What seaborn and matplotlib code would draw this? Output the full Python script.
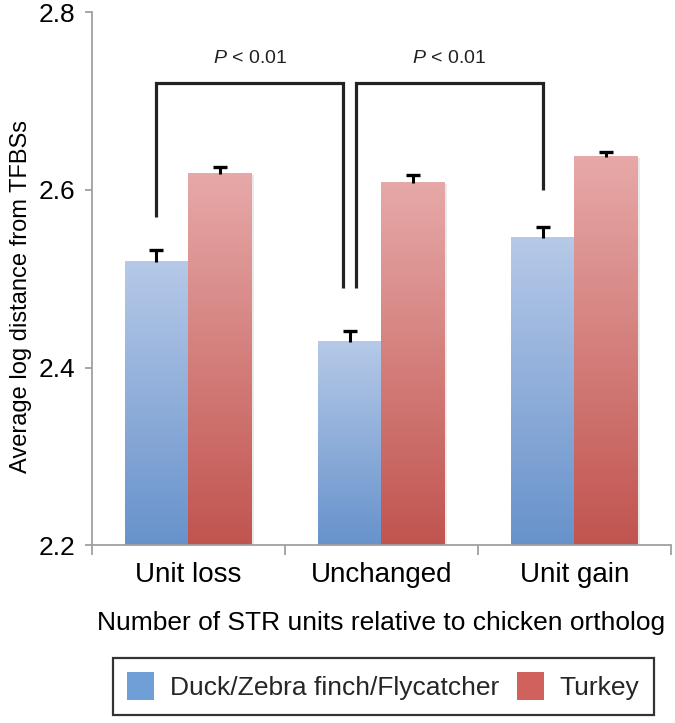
import numpy as np
import pandas as pd
import matplotlib
matplotlib.use("Agg")
import matplotlib.pyplot as plt
import seaborn as sns
from matplotlib.colors import to_rgb
from matplotlib.patches import Patch

# ---- data ----
categories = ["Unit loss", "Unchanged", "Unit gain"]
groups = ["Duck/Zebra finch/Flycatcher", "Turkey"]
duck_means = [2.519, 2.429, 2.546]
turkey_means = [2.618, 2.608, 2.637]
duck_err = [0.013, 0.012, 0.012]
turkey_err = [0.008, 0.009, 0.006]
y_ticks = [2.2, 2.4, 2.6, 2.8]
p_label = "$P$ < 0.01"

# ---- styling ----
grad_colors = {  # (top, bottom) of each bar gradient
    groups[0]: ("#b6c9e8", "#6792cb"),
    groups[1]: ("#e6a9a8", "#c1544f"),
}
legend_colors = {groups[0]: "#6f9fd6", groups[1]: "#d0615c"}
axis_grey = "#a0a0a0"

sns.set_theme(style="white")
plt.rcParams["font.family"] = ["Liberation Sans", "DejaVu Sans"]
plt.rcParams["mathtext.fontset"] = "custom"
plt.rcParams["mathtext.it"] = "Liberation Sans:italic"
plt.rcParams["mathtext.rm"] = "Liberation Sans"

df = pd.DataFrame({
    "category": categories * 2,
    "group": [groups[0]] * 3 + [groups[1]] * 3,
    "value": duck_means + turkey_means,
})

fig = plt.figure(figsize=(6.75, 7.23), dpi=100)
ax = fig.add_axes([0.136, 0.246, 0.858, 0.737])

sns.barplot(data=df, x="category", y="value", hue="group", order=categories,
            hue_order=groups, palette=legend_colors, width=0.66,
            errorbar=None, legend=False, ax=ax)

ymin, ymax = y_ticks[0], y_ticks[-1]

# replace flat fills with vertical gradients (light top, dark bottom)
centers = {}
for grp, cont in zip(groups, ax.containers):
    top, bot = (np.array(to_rgb(c)) for c in grad_colors[grp])
    t = np.linspace(0, 1, 256)[:, None]
    grad = (top * (1 - t) + bot * t)[:, None, :]
    xs = []
    for bar in cont:
        x0, w, h = bar.get_x(), bar.get_width(), bar.get_y() + bar.get_height()
        # faint shadow at the right edge
        ax.imshow(np.full((2, 2, 3), 0.92), extent=[x0 + 0.008, x0 + w + 0.008, ymin, h - 0.002],
                  aspect="auto", zorder=1.5)
        ax.imshow(grad, extent=[x0, x0 + w, ymin, h], aspect="auto", zorder=2,
                  interpolation="bilinear")
        bar.set_facecolor("none")
        bar.set_edgecolor("none")
        xs.append(x0 + w / 2)
    centers[grp] = xs

# upward-only error bars
for grp, means, errs in [(groups[0], duck_means, duck_err), (groups[1], turkey_means, turkey_err)]:
    _, caps, _ = ax.errorbar(centers[grp], means, yerr=[np.zeros(len(errs)), errs], fmt="none",
                             ecolor="black", elinewidth=2.2, capsize=5.2, capthick=2.4, zorder=3)
    caps[0].set_visible(False)  # drop the cap sitting on the bar top

# significance brackets
bracket_top = 2.72
leg_gap = [0.037, 0.049, 0.042]
d = duck_means
e = duck_err
xa, xb = centers[groups[0]][0], centers[groups[0]][1] - 0.034
xc, xd = centers[groups[0]][1] + 0.034, centers[groups[0]][2]
ya = d[0] + e[0] + leg_gap[0]
yb = d[1] + e[1] + leg_gap[1]
yd = d[2] + e[2] + leg_gap[2]
for (x1, y1, x2, y2) in [(xa, ya, xb, yb), (xc, yb, xd, yd)]:
    ax.plot([x1, x1, x2, x2], [y1, bracket_top, bracket_top, y2], color="#222222",
            lw=2.3, solid_joinstyle="miter", solid_capstyle="butt", zorder=4)
    ax.text((x1 + x2) / 2, bracket_top + 0.028, p_label, ha="center", va="center",
            fontsize=14, color="#222222")

# axes
ax.set_xlim(-0.5, len(categories) - 0.5)
ax.set_ylim(ymin, ymax)
ax.set_yticks(y_ticks)
ax.set_yticklabels([f"{v:.1f}" for v in y_ticks])
ax.set_xticks(range(len(categories)))
ax.set_xticklabels(categories)
ax.set_xticks(np.arange(-0.5, len(categories)), minor=True)
sns.despine(ax=ax)
for side in ["left", "bottom"]:
    ax.spines[side].set_color(axis_grey)
    ax.spines[side].set_linewidth(1.3)
ax.tick_params(axis="y", which="major", left=True, length=5, width=1.3, color=axis_grey,
               labelsize=19, pad=7, labelcolor="black")
ax.tick_params(axis="x", which="major", bottom=True, length=0, labelsize=20, pad=12,
               labelcolor="black")
ax.tick_params(axis="x", which="minor", bottom=True, length=7, width=1.3, color=axis_grey)

ax.set_xlabel("Number of STR units relative to chicken ortholog", fontsize=19, labelpad=17,
              color="black")
ax.set_ylabel("Average log distance from TFBSs", fontsize=17, color="black")
ax.yaxis.set_label_coords(-0.104, 0.466)

# legend below the chart
handles = [Patch(facecolor=legend_colors[g], edgecolor="none", label=g) for g in groups]
leg = fig.legend(handles=handles, loc="center", bbox_to_anchor=(0.568, 0.051), ncol=2,
                 fontsize=19, frameon=True, fancybox=False, handlelength=1.0,
                 handleheight=1.25, handletextpad=0.6, columnspacing=0.7,
                 borderpad=0.55)
leg.get_frame().set_edgecolor("black")
leg.get_frame().set_linewidth(1.6)

fig.savefig("out.png", dpi=100)
